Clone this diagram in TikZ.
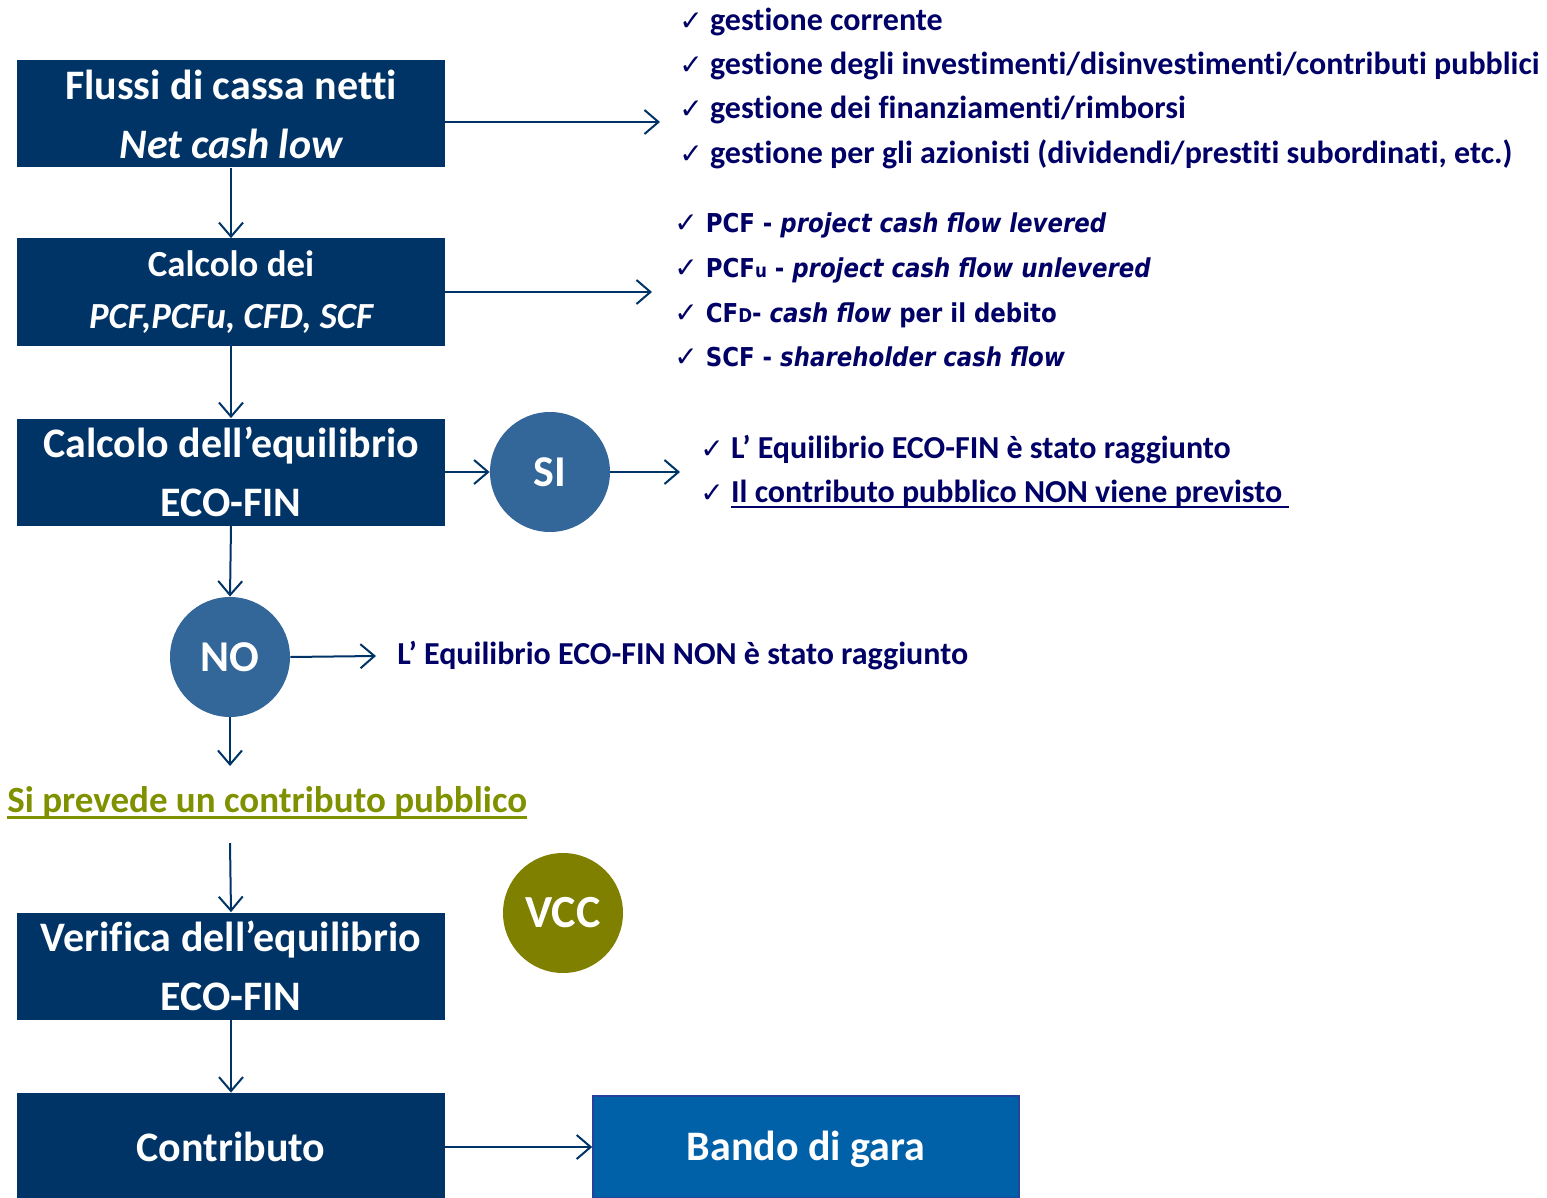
\documentclass[tikz,border=0pt]{standalone}
\usepackage{fontspec}
\setmainfont{Carlito}[Ligatures=NoCommon]
\newfontfamily\verdana{DejaVu Sans}[FakeStretch=0.88]
\newfontfamily\chkfont{DejaVu Sans}
\usepackage{xcolor}
\usetikzlibrary{arrows.meta}

\definecolor{navybox}{RGB}{0,51,102}
\definecolor{circblue}{RGB}{51,102,153}
\definecolor{vccolive}{RGB}{128,128,0}
\definecolor{bandoblue}{RGB}{0,96,168}
\definecolor{listblue}{RGB}{0,0,102}
\definecolor{prevgreen}{RGB}{128,145,0}

\newcommand{\chk}{{\chkfont\mdseries\fontsize{14}{14}\selectfont ✓}\ }
\newcommand{\smallcap}[1]{{\fontsize{9.5}{9.5}\selectfont #1}}
% underline with a chosen rule thickness
\newsavebox{\ulbox}
\newcommand{\ulthick}[2]{\sbox{\ulbox}{#2}\rlap{\rule[-0.2em]{\wd\ulbox}{#1}}\usebox{\ulbox}}

\begin{document}
\begin{tikzpicture}[x=0.5pt, y=-0.5pt, >={Straight Barb[length=7pt,width=12pt]},
    every node/.style={font=\bfseries},
    box/.style={fill=navybox, text=white, minimum width=214pt, minimum height=53.5pt, inner sep=0pt, align=center, font=\bfseries\fontsize{21}{29.5}\selectfont},
    dec/.style={circle, fill=circblue, text=white, minimum size=60pt, inner sep=0pt, font=\bfseries\fontsize{22}{22}\selectfont},
    item/.style={anchor=west, inner sep=0pt, text=listblue, text height=0.9em, text depth=0pt, font=\bfseries\fontsize{16}{16}\selectfont},
    vitem/.style={item, font=\verdana\bfseries\fontsize{13}{13}\selectfont},
    flow/.style={->, draw=navybox, line width=1pt}]
    \useasboundingbox (0,0) rectangle (1547,1198);

    % Main column - positioned explicitly
    \node[box] (flussi) at (231,114) {Flussi di cassa netti\\\itshape Net cash low};
    \node[box, font=\bfseries\fontsize{18.4}{26}\selectfont] (calcolo) at (231,292) {Calcolo dei\\\itshape PCF,PCFu, CFD, SCF};
    \node[box] (equil) at (231,472) {Calcolo dell’equilibrio\\ECO-FIN};
    \node[box] (verifica) at (231,966) {Verifica dell’equilibrio\\ECO-FIN};
    \node[box] (contrib) at (231,1146.5) {Contributo};
    \node[box, fill=bandoblue, draw=bandoblue!70!violet, line width=0.8pt, minimum width=213pt, minimum height=51pt, text depth=0.1em] (bando) at (806,1147) {Bando di gara};

    % Decision circles
    \node[dec] (si) at (550,472) {SI};
    \node[dec] (no) at (230,657) {NO};
    \node[dec, fill=vccolive, font=\bfseries\fontsize{23}{23}\selectfont] (vcc) at (563,913) {VCC};

    % Lists on the right
    \node[item] (g1) at (679,22) {\chk gestione corrente};
    \node[item] (g2) at (679,66) {\chk gestione degli investimenti/disinvestimenti/contributi pubblici};
    \node[item] (g3) at (679,110) {\chk gestione dei finanziamenti/rimborsi};
    \node[item] (g4) at (679,155) {\chk gestione per gli azionisti (dividendi/prestiti subordinati, etc.)};

    \node[vitem] (p1) at (674,224) {\chk PCF - \itshape project cash flow levered};
    \node[vitem] (p2) at (674,269) {\chk PCF\smallcap{u} - \itshape project cash flow unlevered};
    \node[vitem] (p3) at (674,313) {\chk CF\smallcap{D}- {\itshape cash flow} per il debito};
    \node[vitem] (p4) at (674,357) {\chk SCF - \itshape shareholder cash flow};

    \node[item] (s1) at (700,449) {\chk L’ Equilibrio ECO-FIN è stato raggiunto};
    \node[item] (s2) at (700,493) {\chk \ulthick{1pt}{Il contributo pubblico NON viene previsto\ }};

    \node[item] (nores) at (397,655) {L’ Equilibrio ECO-FIN NON è stato raggiunto};

    % Public contribution note
    \node[item, text=prevgreen, font=\bfseries\fontsize{18.5}{18.5}\selectfont] (prevede) at (7,803) {\ulthick{1.5pt}{Si prevede un contributo pubblico}};

    % Free arrow ends
    \coordinate (gest) at (660,122);
    \coordinate (pcf) at (652,292);
    \coordinate (sires) at (680,472);
    \coordinate (nofree) at (376,656);
    \coordinate (nodown) at (230,766);
    \coordinate (vertop) at (230,843);

    % Connectors
    \draw[flow] (flussi.east |- gest) -- (gest);
    \draw[flow] (calcolo.east) -- (pcf);
    \draw[flow] (flussi) -- (calcolo);
    \draw[flow] (calcolo) -- (equil);
    \draw[flow] (equil.east) -- (si.west);
    \draw[flow] (si.east) -- (sires);
    \draw[flow] (equil.south) -- (no.north);
    \draw[flow] (no.east) -- (nofree);
    \draw[flow] (no.south) -- (nodown);
    \draw[flow] (vertop) -- (verifica.north);
    \draw[flow] (verifica) -- (contrib);
    \draw[flow] (contrib.east |- bando.west) -- (bando.west);
\end{tikzpicture}
\end{document}
